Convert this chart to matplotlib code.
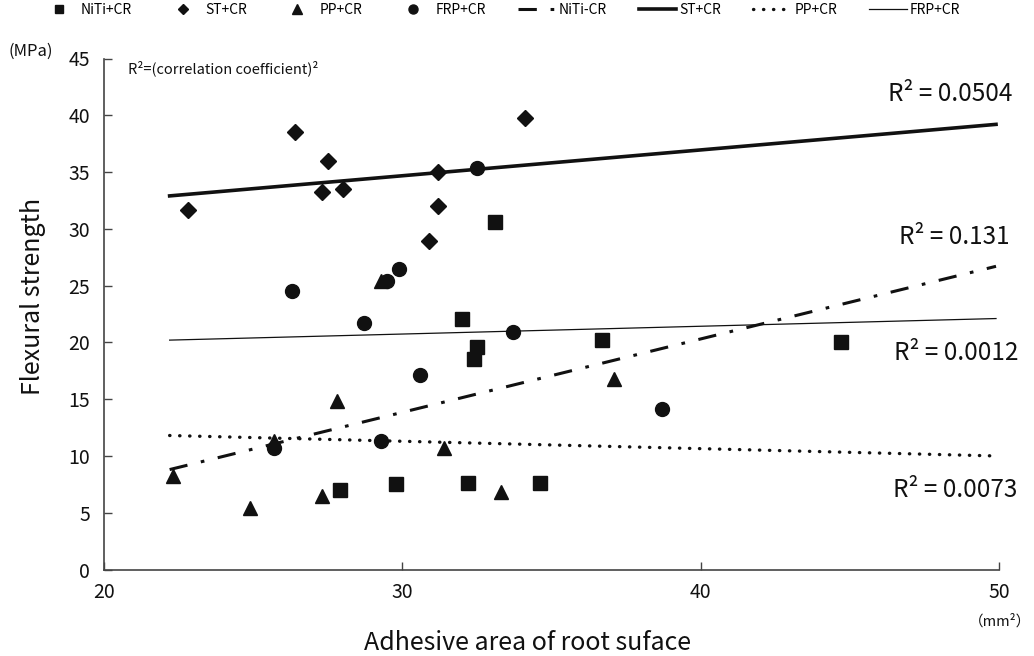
# -*- coding: utf-8 -*-
"""
Flexural strength vs adhesive area of root surface, 4 post systems + linear trend lines
"""
import numpy as np
import matplotlib
matplotlib.use("Agg")
import matplotlib.pyplot as plt

plt.rcParams['font.family'] = ['Noto Sans CJK JP', 'DejaVu Sans']

#---------------------------------------------------
#----------------------data-------------------------
#---------------------------------------------------
# NiTi+CR (squares)
niti_x = [33.1, 32.0, 32.5, 32.4, 36.7, 44.7, 27.9, 29.8, 32.2, 34.6]
niti_y = [30.6, 22.1, 19.6, 18.5, 20.2, 20.0, 7.0, 7.5, 7.6, 7.6]
# ST+CR (diamonds)
st_x = [22.8, 26.4, 27.5, 27.3, 28.0, 31.2, 31.2, 30.9, 34.1]
st_y = [31.7, 38.5, 36.0, 33.2, 33.5, 35.0, 32.0, 28.9, 39.8]
# PP+CR (triangles)
pp_x = [29.3, 27.8, 25.7, 31.4, 22.3, 24.9, 27.3, 33.3, 37.1]
pp_y = [25.4, 14.8, 11.3, 10.7, 8.2, 5.4, 6.5, 6.8, 16.8]
# FRP+CR (circles)
frp_x = [32.5, 29.9, 29.5, 26.3, 28.7, 33.7, 30.6, 29.3, 25.7, 38.7]
frp_y = [35.4, 26.5, 25.4, 24.5, 21.7, 20.9, 17.1, 11.3, 10.7, 14.1]

# trend line end points
trend_x = [22.2, 49.9]
niti_fit = [8.8, 26.7]
st_fit = [32.9, 39.2]
pp_fit = [11.8, 10.0]
frp_fit = [20.2, 22.1]

# R^2 labels: (text, x, y)
r2_labels = [("R² = 0.0504", 50.45, 41.9),
             ("R² = 0.131", 50.35, 29.3),
             ("R² = 0.0012", 50.65, 19.1),
             ("R² = 0.0073", 50.6, 7.0)]

x_ticks = [20, 30, 40, 50]
y_ticks = [0, 5, 10, 15, 20, 25, 30, 35, 40, 45]

#---------------------------------------------------
#----------------------plot-------------------------
#---------------------------------------------------
W, H = 1034, 656
fig = plt.figure(figsize=(W / 100, H / 100), dpi=100)
ax = fig.add_axes([104 / W, 1 - 569.5 / H, 895 / W, 511 / H])

ink = '#111111'

h_niti, = ax.plot(niti_x, niti_y, 's', ms=9.4, color=ink, ls='none', label='NiTi+CR')
h_st, = ax.plot(st_x, st_y, 'D', ms=8.5, color=ink, ls='none', label='ST+CR')
h_pp, = ax.plot(pp_x, pp_y, '^', ms=10, color=ink, ls='none', label='PP+CR')
h_frp, = ax.plot(frp_x, frp_y, 'o', ms=10, color=ink, ls='none', label='FRP+CR')

l_niti, = ax.plot(trend_x, niti_fit, color=ink, lw=2.2,
                  ls=(0, (6, 4.5, 1.2, 4.5)), label='NiTi-CR')
l_st, = ax.plot(trend_x, st_fit, color=ink, lw=2.6, ls='-', label='ST+CR')
l_pp, = ax.plot(trend_x, pp_fit, color=ink, lw=2.4,
                ls=(0, (0.1, 2.9)), dash_capstyle='round', label='PP+CR')
l_frp, = ax.plot(trend_x, frp_fit, color=ink, lw=0.9, ls='-', label='FRP+CR')

# R^2 annotations
for txt, tx, ty in r2_labels:
    ax.text(tx, ty, txt, ha='right', va='center', fontsize=17.5,
            color=ink, clip_on=False)

# axes limits / ticks
ax.set_xlim(20, 50)
ax.set_ylim(0, 45)
ax.set_xticks(x_ticks)
ax.set_yticks(y_ticks)
ax.tick_params(direction='in', length=6, width=1, colors='#444444',
               labelcolor=ink, labelsize=14)
ax.tick_params(axis='x', pad=9)
ax.tick_params(axis='y', pad=10)

for side in ['top', 'right']:
    ax.spines[side].set_visible(False)
for side in ['left', 'bottom']:
    ax.spines[side].set_color('#444444')
    ax.spines[side].set_linewidth(1.2)

# axis labels
ax.set_xlabel('Adhesive area of root suface', fontsize=18, color=ink, va='center')
ax.xaxis.set_label_coords((527 - 104) / 895, (569.5 - 643) / 511)
ax.set_ylabel('Flexural strength', fontsize=18, color=ink, va='center', ha='center')
ax.yaxis.set_label_coords((33 - 104) / 895, (569.5 - 296) / 511)

# units and note
fig.text(31 / W, 1 - 51 / H, '(MPa)', ha='center', va='center', fontsize=12, color=ink)
fig.text(1000 / W, 1 - 621 / H, '（mm²）', ha='center', va='center', fontsize=10.5, color=ink)
fig.text(128 / W, 1 - 68 / H, 'R²=(correlation coefficient)²', ha='left', va='center',
         fontsize=10.5, color=ink)

#-----------LEGEND-------------------
handles = [h_niti, h_st, h_pp, h_frp, l_niti, l_st, l_pp, l_frp]
labels = [h.get_label() for h in handles]
fig.legend(handles, labels, loc='upper left', bbox_to_anchor=(40 / W, 1 - 3 / H),
           ncol=8, frameon=False, fontsize=10, handlelength=2.7, handletextpad=0.25,
           columnspacing=2.3, borderpad=0, borderaxespad=0, markerscale=0.65)

#-----------SAVE-------------------
fig.savefig('out.png', dpi=100)
